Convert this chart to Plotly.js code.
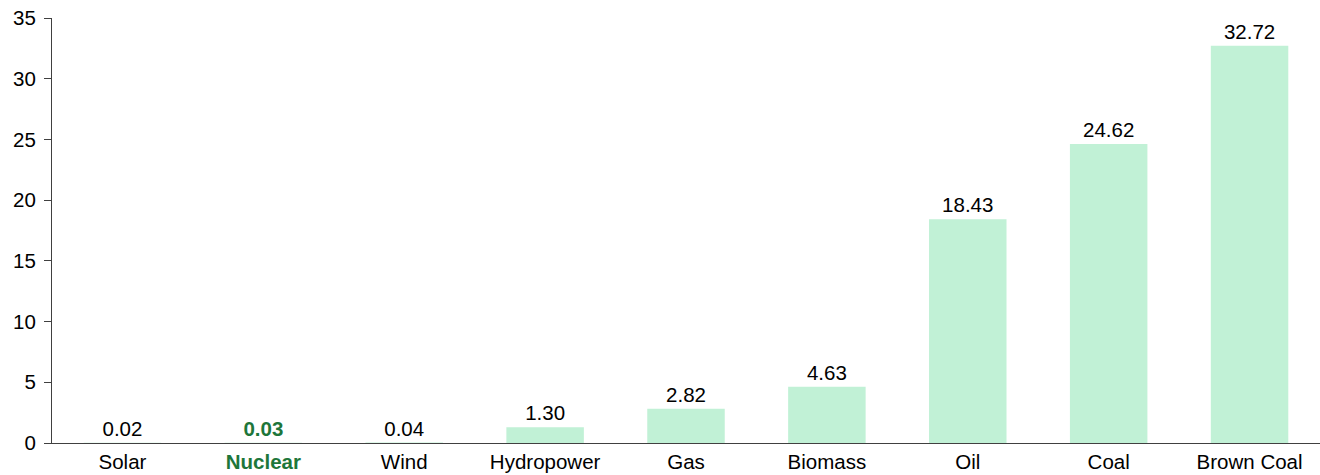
<!DOCTYPE html>
<html><head><meta charset="utf-8">
<script src="https://cdn.plot.ly/plotly-3.0.1.min.js"></script>
<style>html,body{margin:0;padding:0;background:#fff}#chart{width:1320px;height:475px}</style>
</head><body><div id="chart"></div>
<script>
var categories = ["Solar","Nuclear","Wind","Hydropower","Gas","Biomass","Oil","Coal","Brown Coal"];
var values = [0.02,0.03,0.04,1.30,2.82,4.63,18.43,24.62,32.72];
var yTicks = [0,5,10,15,20,25,30,35];
var highlight = "Nuclear";
var green = "#1d763a";
var fs = 20.5;

var tickText = categories.map(function(c){return c===highlight ? "<b>"+c+"</b>" : c;});
var labelText = values.map(function(v,i){var t=v.toFixed(2);return categories[i]===highlight ? "<b>"+t+"</b>" : t;});
var labelColors = categories.map(function(c){return c===highlight ? green : "#000";});

var trace = {
  type:"bar", x:categories, y:values,
  marker:{color:"#c1f1d6"},
  text:labelText, textposition:"outside", cliponaxis:false,
  textfont:{family:"Liberation Sans, Arial, sans-serif", size:fs, color:labelColors},
  hoverinfo:"none"
};
var layout = {
  width:1320, height:475,
  margin:{l:52,r:0,t:18,b:32},
  paper_bgcolor:"#fff", plot_bgcolor:"#fff",
  bargap:0.45,
  showlegend:false,
  font:{family:"Liberation Sans, Arial, sans-serif", size:fs, color:"#000"},
  xaxis:{tickmode:"array", tickvals:categories, ticktext:tickText, showline:true, linecolor:"#404040", linewidth:1,
    ticks:"", showgrid:false, zeroline:false, tickfont:{size:fs}},
  yaxis:{range:[0,35], tickmode:"array", tickvals:yTicks, showline:true, linecolor:"#404040", linewidth:1,
    ticks:"outside", ticklen:7, tickcolor:"#404040", ticklabelstandoff:4, showgrid:false, zeroline:false, tickfont:{size:fs}}
};
Plotly.newPlot("chart",[trace],layout,{staticPlot:true}).then(function(){
  document.querySelectorAll(".xtick text").forEach(function(t){
    if(t.textContent===highlight){t.style.fill=green;}
  });
});
</script></body></html>
